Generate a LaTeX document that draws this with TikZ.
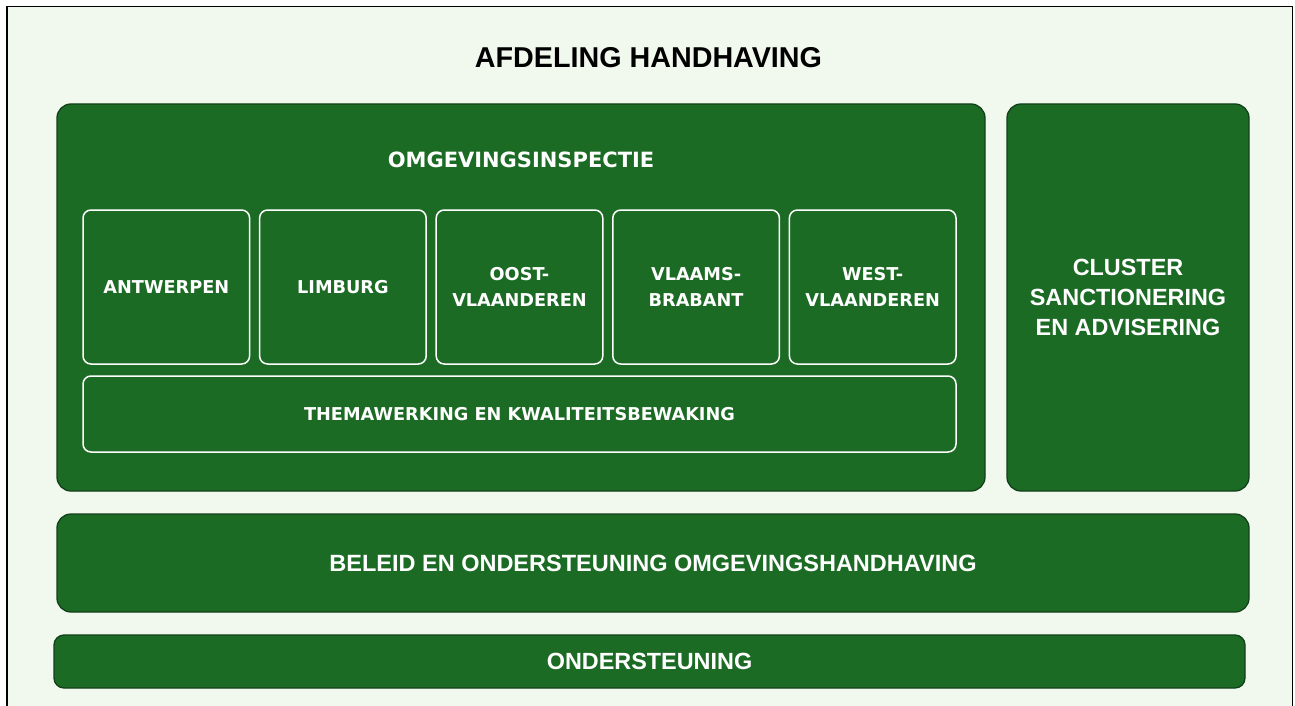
\documentclass[tikz,border=0pt]{standalone}
\usepackage{fontspec}
\setmainfont{Liberation Sans}
\newfontfamily\provfont{DejaVu Sans}
\usepackage{xcolor}
\usetikzlibrary{positioning}

\definecolor{bggreen}{HTML}{F1F8EE}
\definecolor{dkgreen}{HTML}{1C6B25}
\definecolor{edgegreen}{HTML}{12401A}

\begin{document}
\begin{tikzpicture}[x=1pt, y=-1pt,
  bigbox/.style={draw=edgegreen, line width=1.3pt, fill=dkgreen, rounded corners=14pt,
    inner sep=0pt, outer sep=0pt, text=white, align=center,
    font=\bfseries\fontsize{23.4}{30}\selectfont},
  provbox/.style={draw=white, line width=1.5pt, rounded corners=8pt, inner sep=0pt, outer sep=0pt,
    minimum width=166.6pt, minimum height=154pt, text=white, align=center,
    font=\provfont\bfseries\fontsize{17.7}{26}\selectfont}]

% page and frame
\useasboundingbox (0,0) rectangle (1295,706);
\fill[white] (0,0) rectangle (1295,706);
\fill[bggreen] (7,7) rectangle (1292,706);
\draw[black, line width=1.5pt] (6.75,706) -- (6.75,6.75) -- (1292.5,6.75) -- (1292.5,706);

\node[font=\bfseries\fontsize{28.7}{34}\selectfont] (title) at (648.5,58) {AFDELING HANDHAVING};

% omgevingsinspectie
\node[bigbox, minimum width=928pt, minimum height=387pt] (insp) at (521,297.5) {};
\node[text=white, font=\provfont\bfseries\fontsize{21}{24}\selectfont] (insptitle) at (521,160) {OMGEVINGSINSPECTIE};

\node[provbox] (antw) at (166.3,287) {ANTWERPEN};
\node[provbox, right=10pt of antw] (limb) {LIMBURG};
\node[provbox, right=10pt of limb] (ovl) {OOST-\\VLAANDEREN};
\node[provbox, right=10pt of ovl] (vlb) {VLAAMS-\\BRABANT};
\node[provbox, right=10pt of vlb] (wvl) {WEST-\\VLAANDEREN};
\node[provbox, minimum width=873pt, minimum height=76pt, anchor=north west] (thema)
  at ([yshift=-12pt]antw.south west) {THEMAWERKING EN KWALITEITSBEWAKING};

% cluster
\node[bigbox, minimum width=242pt, minimum height=387pt] (cluster) at (1128,297.5)
  {CLUSTER\\SANCTIONERING\\EN ADVISERING};

% onderste balken
\node[bigbox, minimum width=1192pt, minimum height=98pt, font=\bfseries\fontsize{23.5}{28}\selectfont]
  (beleid) at (653,563) {BELEID EN ONDERSTEUNING OMGEVINGSHANDHAVING};
\node[bigbox, minimum width=1191pt, minimum height=53pt, rounded corners=10pt]
  (onder) at (649.5,661.5) {ONDERSTEUNING};

\end{tikzpicture}
\end{document}
